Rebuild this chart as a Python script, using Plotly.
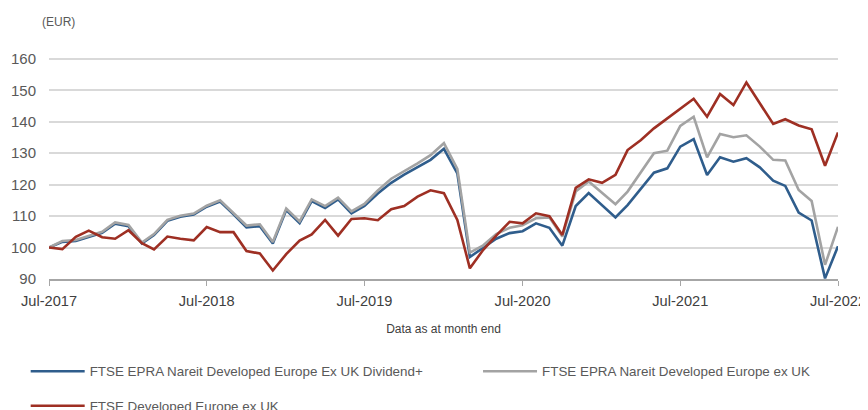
import pandas as pd
import plotly.graph_objects as go

months = pd.date_range("2017-07-01", periods=61, freq="MS")

dividend_plus = [100, 101.8, 102.1, 103.4, 104.7, 107.6, 106.8, 101.3, 104.0, 108.5,
                 109.8, 110.5, 113.0, 114.6, 110.6, 106.4, 106.8, 101.3, 111.9, 107.8,
                 114.8, 112.6, 115.3, 110.9, 113.2, 117.2, 120.6, 123.2, 125.6, 127.9,
                 131.4, 123.6, 97.0, 99.9, 102.8, 104.6, 105.2, 107.7, 106.3, 100.6,
                 113.2, 117.3, 113.5, 109.6, 113.5, 118.8, 123.8, 125.2, 132.1, 134.5,
                 123.1, 128.7, 127.3, 128.4, 125.5, 121.3, 119.6, 111.1, 108.6, 90.2,
                 100.4]
epra_ex_uk = [100, 102.1, 102.4, 103.7, 105.0, 108.0, 107.2, 101.6, 104.3, 108.8,
              110.1, 110.8, 113.3, 115.0, 111.0, 107.0, 107.4, 101.8, 112.4, 108.3,
              115.3, 113.2, 115.9, 111.5, 113.9, 118.2, 121.9, 124.2, 126.8, 129.4,
              133.2, 125.0, 98.4, 100.7, 104.3, 106.3, 107.1, 109.3, 109.6, 103.5,
              117.8, 121.0, 117.3, 113.8, 117.8, 124.1, 130.0, 130.8, 138.7, 141.6,
              128.7, 136.1, 135.1, 135.7, 132.1, 127.9, 127.7, 118.3, 114.8, 94.5,
              106.6]
developed_ex_uk = [100, 99.5, 103.4, 105.4, 103.3, 102.8, 105.5, 101.4, 99.4, 103.5,
                   102.8, 102.3, 106.5, 104.9, 104.9, 98.9, 98.1, 92.7, 97.9, 102.2,
                   104.2, 108.8, 103.8, 109.1, 109.3, 108.7, 112.2, 113.2, 116.2, 118.2,
                   117.3, 108.8, 93.4, 99.3, 103.8, 108.2, 107.7, 110.9, 110.0, 104.0,
                   119.0, 121.7, 120.6, 123.1, 131.0, 134.2, 137.9, 141.1, 144.2, 147.3,
                   141.6, 148.8, 145.3, 152.5, 145.9, 139.3, 140.8, 138.8, 137.6, 126.0,
                   136.6]

names = ["FTSE EPRA Nareit Developed Europe Ex UK Dividend+",
         "FTSE EPRA Nareit Developed Europe ex UK",
         "FTSE Developed Europe ex UK"]
colors = ["#2f5d8c", "#a3a3a3", "#9e2f23"]
y_ticks = [90, 100, 110, 120, 130, 140, 150, 160]

W, H = 868, 410
OFF = 8  # page body margin
# plot area in screen pixels
SX0, SX1 = 49.3, 837.7
Y_LO, Y_HI = 90, 160.6
SY_BOT = 279.0
SY_TOP = SY_BOT - (Y_HI - Y_LO) * 3.143

L = SX0 - OFF
T = SY_TOP - OFF
pw = SX1 - SX0
ph = SY_BOT - SY_TOP
R = W - L - pw
B = H - T - ph

def px_x(xs):
    return (xs - SX0) / pw

def px_y(ys):
    return (SY_BOT - ys) / ph

fig = go.Figure()
series = [dividend_plus, epra_ex_uk, developed_ex_uk]
legends = ["legend", "legend2", "legend3"]
for vals, name, col, lg in zip(series, names, colors, legends):
    fig.add_trace(go.Scatter(x=months, y=vals, name=name, mode="lines",
                             line=dict(color=col, width=2.6), legend=lg,
                             showlegend=True))

leg_common = dict(orientation="h", xanchor="left", yanchor="middle",
                  font=dict(size=13.4, color="#595959"), itemwidth=54,
                  bgcolor="rgba(0,0,0,0)", visible=True)

fig.update_layout(
    width=W, height=H, showlegend=True,
    margin=dict(l=L, r=R, t=T, b=B, autoexpand=False),
    plot_bgcolor="white", paper_bgcolor="white",
    font=dict(family="Liberation Sans, Arial, sans-serif", color="#595959"),
    xaxis=dict(
        range=[months[0], months[-1]],
        tickformat="%b-%Y", dtick="M12", tick0=months[0],
        showgrid=False, showline=True, linecolor="#a6a6a6", linewidth=1.5,
        ticks="outside", ticklen=5, tickcolor="#a6a6a6", tickwidth=1,
        tickfont=dict(size=14.6, color="#404040"), automargin=False,
        ticklabelstandoff=3,
        title=dict(text="Data as at month end", font=dict(size=12, color="#404040"),
                   standoff=16),
    ),
    yaxis=dict(
        range=[Y_LO, Y_HI], tickvals=y_ticks,
        showgrid=True, gridcolor="#d9d9d9", gridwidth=1.5,
        zeroline=False, showline=False, automargin=False,
        tickfont=dict(size=15, color="#595959"),
        ticklabelstandoff=12,
    ),
    legend=dict(x=px_x(26), y=px_y(371.5), **leg_common),
    legend2=dict(x=px_x(478), y=px_y(371.5), **leg_common),
    legend3=dict(x=px_x(26), y=px_y(406), **leg_common),
    annotations=[dict(text="(EUR)", xref="paper", yref="paper",
                      x=px_x(40), y=px_y(22), xanchor="left", yanchor="middle",
                      showarrow=False, font=dict(size=12, color="#595959"))],
    shapes=[dict(type="line", xref="paper", yref="paper",
                 x0=px_x(0), x1=px_x(W + 10), y0=px_y(6.5), y1=px_y(6.5),
                 line=dict(color="#7a5060", width=1))],
)

fig.write_html("out.html")
